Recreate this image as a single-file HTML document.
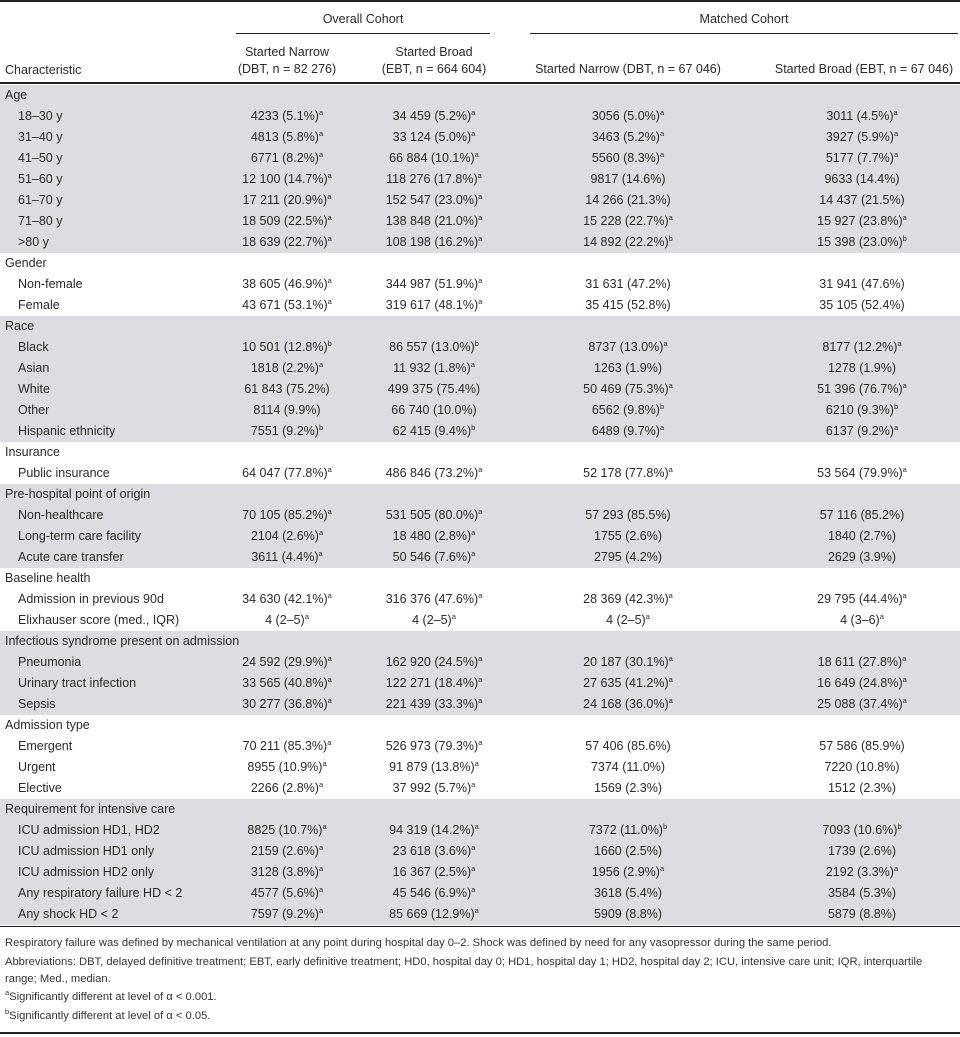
<!DOCTYPE html>
<html><head><meta charset="utf-8"><style>
body{margin:0;width:960px;height:1037px;background:#fff;position:relative;overflow:hidden;font-family:"Liberation Sans",Arial,sans-serif;color:#2a2a2a;font-size:12.5px}
.a{position:absolute;white-space:nowrap;line-height:14px}
.c{position:absolute;width:240px;text-align:center;white-space:nowrap;line-height:14px}
.row{position:absolute;left:0;width:960px;height:21px}
.g{background:#dcdde0}
.row .l{position:absolute;left:5px;top:3px;white-space:nowrap}
.row .l.i{left:18px}
.row .v{position:absolute;top:3px;width:240px;text-align:center;white-space:nowrap}
sup{font-size:7.5px;line-height:0;vertical-align:5px}
.hr{position:absolute;background:#222}
.f{position:absolute;left:5px;font-size:11.2px;white-space:nowrap;line-height:12px;color:#333}
</style></head><body>
<div class="hr" style="left:0;top:0;width:960px;height:2px"></div>
<div class="c" style="left:243px;top:12px">Overall Cohort</div>
<div class="c" style="left:624px;top:12px">Matched Cohort</div>
<div class="hr" style="left:236px;top:33px;width:254px;height:1px"></div>
<div class="hr" style="left:530px;top:33px;width:428px;height:1px"></div>
<div class="a" style="left:5px;top:63px">Characteristic</div>
<div class="c" style="left:167px;top:45px">Started Narrow</div>
<div class="c" style="left:167px;top:62px">(DBT, n = 82 276)</div>
<div class="c" style="left:314px;top:45px">Started Broad</div>
<div class="c" style="left:314px;top:62px">(EBT, n = 664 604)</div>
<div class="c" style="left:508px;top:62px">Started Narrow (DBT, n = 67 046)</div>
<div class="c" style="left:744px;top:62px">Started Broad (EBT, n = 67 046)</div>
<div class="hr" style="left:0;top:82px;width:960px;height:2px"></div>
<div id="t"></div>
<div class="hr" style="left:0;top:926px;width:960px;height:1px"></div>
<div class="f" style="top:937px">Respiratory failure was defined by mechanical ventilation at any point during hospital day 0–2. Shock was defined by need for any vasopressor during the same period.</div>
<div class="f" style="top:956px">Abbreviations: DBT, delayed definitive treatment; EBT, early definitive treatment; HD0, hospital day 0; HD1, hospital day 1; HD2, hospital day 2; ICU, intensive care unit; IQR, interquartile</div>
<div class="f" style="top:973px">range; Med., median.</div>
<div class="f" style="top:991px"><sup>a</sup>Significantly different at level of α &lt; 0.001.</div>
<div class="f" style="top:1010px"><sup>b</sup>Significantly different at level of α &lt; 0.05.</div>
<div class="hr" style="left:0;top:1032px;width:960px;height:2px"></div>
<script>
var S=[
["Age",1,[
["18–30 y","4233 (5.1%)^a","34 459 (5.2%)^a","3056 (5.0%)^a","3011 (4.5%)^a"],
["31–40 y","4813 (5.8%)^a","33 124 (5.0%)^a","3463 (5.2%)^a","3927 (5.9%)^a"],
["41–50 y","6771 (8.2%)^a","66 884 (10.1%)^a","5560 (8.3%)^a","5177 (7.7%)^a"],
["51–60 y","12 100 (14.7%)^a","118 276 (17.8%)^a","9817 (14.6%)","9633 (14.4%)"],
["61–70 y","17 211 (20.9%)^a","152 547 (23.0%)^a","14 266 (21.3%)","14 437 (21.5%)"],
["71–80 y","18 509 (22.5%)^a","138 848 (21.0%)^a","15 228 (22.7%)^a","15 927 (23.8%)^a"],
["&gt;80 y","18 639 (22.7%)^a","108 198 (16.2%)^a","14 892 (22.2%)^b","15 398 (23.0%)^b"]]],
["Gender",0,[
["Non-female","38 605 (46.9%)^a","344 987 (51.9%)^a","31 631 (47.2%)","31 941 (47.6%)"],
["Female","43 671 (53.1%)^a","319 617 (48.1%)^a","35 415 (52.8%)","35 105 (52.4%)"]]],
["Race",1,[
["Black","10 501 (12.8%)^b","86 557 (13.0%)^b","8737 (13.0%)^a","8177 (12.2%)^a"],
["Asian","1818 (2.2%)^a","11 932 (1.8%)^a","1263 (1.9%)","1278 (1.9%)"],
["White","61 843 (75.2%)","499 375 (75.4%)","50 469 (75.3%)^a","51 396 (76.7%)^a"],
["Other","8114 (9.9%)","66 740 (10.0%)","6562 (9.8%)^b","6210 (9.3%)^b"],
["Hispanic ethnicity","7551 (9.2%)^b","62 415 (9.4%)^b","6489 (9.7%)^a","6137 (9.2%)^a"]]],
["Insurance",0,[
["Public insurance","64 047 (77.8%)^a","486 846 (73.2%)^a","52 178 (77.8%)^a","53 564 (79.9%)^a"]]],
["Pre-hospital point of origin",1,[
["Non-healthcare","70 105 (85.2%)^a","531 505 (80.0%)^a","57 293 (85.5%)","57 116 (85.2%)"],
["Long-term care facility","2104 (2.6%)^a","18 480 (2.8%)^a","1755 (2.6%)","1840 (2.7%)"],
["Acute care transfer","3611 (4.4%)^a","50 546 (7.6%)^a","2795 (4.2%)","2629 (3.9%)"]]],
["Baseline health",0,[
["Admission in previous 90d","34 630 (42.1%)^a","316 376 (47.6%)^a","28 369 (42.3%)^a","29 795 (44.4%)^a"],
["Elixhauser score (med., IQR)","4 (2–5)^a","4 (2–5)^a","4 (2–5)^a","4 (3–6)^a"]]],
["Infectious syndrome present on admission",1,[
["Pneumonia","24 592 (29.9%)^a","162 920 (24.5%)^a","20 187 (30.1%)^a","18 611 (27.8%)^a"],
["Urinary tract infection","33 565 (40.8%)^a","122 271 (18.4%)^a","27 635 (41.2%)^a","16 649 (24.8%)^a"],
["Sepsis","30 277 (36.8%)^a","221 439 (33.3%)^a","24 168 (36.0%)^a","25 088 (37.4%)^a"]]],
["Admission type",0,[
["Emergent","70 211 (85.3%)^a","526 973 (79.3%)^a","57 406 (85.6%)","57 586 (85.9%)"],
["Urgent","8955 (10.9%)^a","91 879 (13.8%)^a","7374 (11.0%)","7220 (10.8%)"],
["Elective","2266 (2.8%)^a","37 992 (5.7%)^a","1569 (2.3%)","1512 (2.3%)"]]],
["Requirement for intensive care",1,[
["ICU admission HD1, HD2","8825 (10.7%)^a","94 319 (14.2%)^a","7372 (11.0%)^b","7093 (10.6%)^b"],
["ICU admission HD1 only","2159 (2.6%)^a","23 618 (3.6%)^a","1660 (2.5%)","1739 (2.6%)"],
["ICU admission HD2 only","3128 (3.8%)^a","16 367 (2.5%)^a","1956 (2.9%)^a","2192 (3.3%)^a"],
["Any respiratory failure HD &lt; 2","4577 (5.6%)^a","45 546 (6.9%)^a","3618 (5.4%)","3584 (5.3%)"],
["Any shock HD &lt; 2","7597 (9.2%)^a","85 669 (12.9%)^a","5909 (8.8%)","5879 (8.8%)"]]]
];
var C=[287,434,628,862],h="",y=85;
function f(s){return s.replace(/\^([ab])/,"<sup>$1</sup>");}
S.forEach(function(s){
 var g=s[1]?" g":"";
 h+='<div class="row'+g+'" style="top:'+y+'px"><div class="l">'+s[0]+'</div></div>';y+=21;
 s[2].forEach(function(r){
  h+='<div class="row'+g+'" style="top:'+y+'px"><div class="l i">'+r[0]+'</div>';
  for(var k=0;k<4;k++)h+='<div class="v" style="left:'+(C[k]-120)+'px">'+f(r[k+1])+'</div>';
  h+='</div>';y+=21;});
});
document.getElementById("t").innerHTML=h;
</script>
</body></html>
